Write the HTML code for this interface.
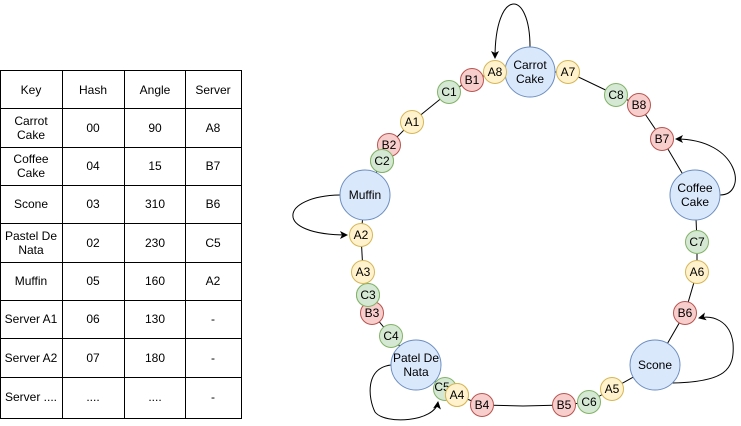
<!DOCTYPE html>
<html><head><meta charset="utf-8"><style>
html,body{margin:0;padding:0;background:#fff;width:741px;height:426px;overflow:hidden}
svg text{font-family:"Liberation Sans",sans-serif;font-size:12px;fill:#000;text-anchor:middle;dominant-baseline:central}
</style></head><body>
<svg width="741" height="426" viewBox="0 0 741 426" xmlns="http://www.w3.org/2000/svg">
<defs><marker id="ar" markerWidth="8" markerHeight="8" refX="7" refY="4" orient="auto" markerUnits="userSpaceOnUse"><path d="M0,0 L8,4 L0,8 L2,4 Z" fill="#000"/></marker></defs>
<!-- table -->
<g stroke="#000" stroke-width="1" fill="none">
<rect x="0.5" y="70.5" width="241" height="348"/>
<line x1="62.5" y1="70" x2="62.5" y2="418"/>
<line x1="124.5" y1="70" x2="124.5" y2="418"/>
<line x1="185.5" y1="70" x2="185.5" y2="418"/>
<line x1="0" y1="108.5" x2="241" y2="108.5"/>
<line x1="0" y1="147.5" x2="241" y2="147.5"/>
<line x1="0" y1="185.5" x2="241" y2="185.5"/>
<line x1="0" y1="223.5" x2="241" y2="223.5"/>
<line x1="0" y1="262.5" x2="241" y2="262.5"/>
<line x1="0" y1="300.5" x2="241" y2="300.5"/>
<line x1="0" y1="338.5" x2="241" y2="338.5"/>
<line x1="0" y1="377.5" x2="241" y2="377.5"/>
</g>
<g>
<text x="31" y="90">Key</text><text x="93" y="90">Hash</text><text x="155" y="90">Angle</text><text x="213" y="90">Server</text>
<text x="31" y="121">Carrot</text><text x="31" y="135">Cake</text><text x="93" y="128">00</text><text x="155" y="128">90</text><text x="213" y="128">A8</text>
<text x="31" y="159">Coffee</text><text x="31" y="173">Cake</text><text x="93" y="166">04</text><text x="155" y="166">15</text><text x="213" y="166">B7</text>
<text x="31" y="204">Scone</text><text x="93" y="204">03</text><text x="155" y="204">310</text><text x="213" y="204">B6</text>
<text x="31" y="236">Pastel De</text><text x="31" y="250">Nata</text><text x="93" y="243">02</text><text x="155" y="243">230</text><text x="213" y="243">C5</text>
<text x="31" y="281">Muffin</text><text x="93" y="281">05</text><text x="155" y="281">160</text><text x="213" y="281">A2</text>
<text x="31" y="319">Server A1</text><text x="93" y="319">06</text><text x="155" y="319">130</text><text x="213" y="319">-</text>
<text x="31" y="358">Server A2</text><text x="93" y="358">07</text><text x="155" y="358">180</text><text x="213" y="358">-</text>
<text x="31" y="397">Server ....</text><text x="93" y="397">....</text><text x="155" y="397">....</text><text x="213" y="397">-</text>
</g>
<!-- ring lines -->
<polyline fill="none" stroke="#000" stroke-width="1" points="530,72 568,72 616,95 639,105 662,139 695,195 697,242 697,272 685,313 655,365 612,389 589,402 564,405 523,406 482,405 457,395 445,389 416,365 391,336 372,313 368,295 363,272 361,235 365,195 382,161 389,145 412,122 449,92 472,80 495,72 530,72"/>
<!-- loops -->
<g fill="none" stroke="#000" stroke-width="1">
<path d="M530,47 C530,-12 495,-12 495,58" marker-end="url(#ar)"/>
<path d="M720,195 C748,195 740,139 676,139" marker-end="url(#ar)"/>
<path d="M340,195 C280,196 272,235 347,235" marker-end="url(#ar)"/>
<path d="M391,365 C365,368 368,398 375,412 C385,425 435,422 438,402" marker-end="url(#ar)"/>
<path d="M672,383 C725,382 735,370 733,343 C730,320 712,315 699,318" marker-end="url(#ar)"/>
</g>
<!-- big nodes -->
<g fill="#dae8fc" stroke="#6c8ebf">
<circle cx="530" cy="72" r="25"/><circle cx="695" cy="195" r="25"/><circle cx="655" cy="365" r="25"/><circle cx="416" cy="365" r="25"/><circle cx="365" cy="195" r="25"/>
</g>
<text x="530" y="65">Carrot</text><text x="530" y="79">Cake</text>
<text x="695" y="188">Coffee</text><text x="695" y="202">Cake</text>
<text x="655" y="365">Scone</text>
<text x="416" y="358">Patel De</text><text x="416" y="372">Nata</text>
<text x="365" y="195">Muffin</text>
<!-- small nodes -->
<g fill="#d5e8d4" stroke="#82b366">
<circle cx="449" cy="92" r="11.5"/><circle cx="382" cy="161" r="11.5"/><circle cx="616" cy="95" r="11.5"/><circle cx="697" cy="242" r="11.5"/><circle cx="368" cy="295" r="11.5"/><circle cx="391" cy="336" r="11.5"/><circle cx="445" cy="389" r="11.5"/><circle cx="589" cy="402" r="11.5"/>
</g>
<g fill="#f8cecc" stroke="#b85450">
<circle cx="472" cy="80" r="11.5"/><circle cx="639" cy="105" r="11.5"/><circle cx="662" cy="139" r="11.5"/><circle cx="685" cy="313" r="11.5"/><circle cx="482" cy="405" r="11.5"/><circle cx="564" cy="405" r="11.5"/><circle cx="372" cy="313" r="11.5"/>
</g>
<circle cx="389" cy="145" r="11.5" fill="#f8cecc" stroke="#b85450"/>
<circle cx="382" cy="161" r="11.5" fill="#d5e8d4" stroke="#82b366"/>
<circle cx="368" cy="295" r="11.5" fill="#d5e8d4" stroke="#82b366"/>
<g fill="#fff2cc" stroke="#d6b656">
<circle cx="495" cy="72" r="11.5"/><circle cx="568" cy="72" r="11.5"/><circle cx="412" cy="122" r="11.5"/><circle cx="361" cy="235" r="11.5"/><circle cx="363" cy="272" r="11.5"/><circle cx="697" cy="272" r="11.5"/><circle cx="612" cy="389" r="11.5"/><circle cx="457" cy="395" r="11.5"/>
</g>
<g>
<text x="449" y="92">C1</text><text x="472" y="80">B1</text><text x="495" y="72">A8</text><text x="568" y="72">A7</text>
<text x="616" y="95">C8</text><text x="639" y="105">B8</text><text x="662" y="139">B7</text>
<text x="697" y="242">C7</text><text x="697" y="272">A6</text><text x="685" y="313">B6</text>
<text x="612" y="389">A5</text><text x="589" y="402">C6</text><text x="564" y="405">B5</text>
<text x="482" y="405">B4</text><text x="442" y="387">C5</text><text x="457" y="395">A4</text>
<text x="391" y="336">C4</text><text x="372" y="313">B3</text><text x="368" y="295">C3</text>
<text x="363" y="272">A3</text><text x="361" y="235">A2</text>
<text x="389" y="145">B2</text><text x="382" y="161">C2</text><text x="412" y="122">A1</text>
</g>
<!-- re-draw A4 over C5 text -->
<circle cx="457" cy="395" r="11.5" fill="#fff2cc" stroke="#d6b656"/><text x="457" y="395">A4</text>
</svg>
</body></html>
